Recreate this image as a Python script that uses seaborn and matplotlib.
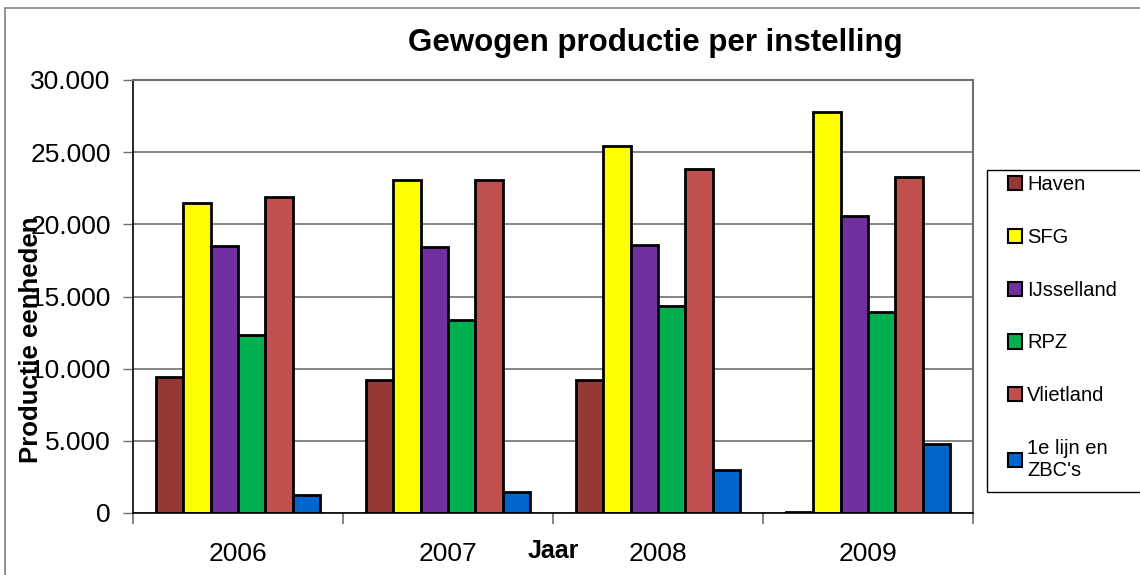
import numpy as np
import pandas as pd
import matplotlib
matplotlib.use("Agg")
import matplotlib.pyplot as plt
from matplotlib.ticker import FuncFormatter, FixedLocator
from matplotlib.patches import Rectangle
import seaborn as sns

YEARS = ["2006", "2007", "2008", "2009"]
INSTELLINGEN = ["Haven", "SFG", "IJsselland", "RPZ", "Vlietland", "1e lijn en\nZBC's"]
HAVEN = [9400, 9200, 9200, 100]
SFG = [21500, 23100, 25450, 27800]
IJSSELLAND = [18500, 18450, 18550, 20550]
RPZ = [12300, 13400, 14350, 13950]
VLIETLAND = [21900, 23100, 23850, 23300]
EERSTE_LIJN = [1250, 1450, 3000, 4800]
COLORS = ["#953735", "#FFFF00", "#7030A0", "#00B050", "#C0504D", "#0066CC"]


def build_frame():
    series = [HAVEN, SFG, IJSSELLAND, RPZ, VLIETLAND, EERSTE_LIJN]
    rows = []
    for name, vals in zip(INSTELLINGEN, series):
        for year, v in zip(YEARS, vals):
            rows.append({"Jaar": year, "Instelling": name, "Productie": v})
    return pd.DataFrame(rows)


def main():
    sns.set_style("white")
    plt.rcParams["font.family"] = ["Liberation Sans", "DejaVu Sans"]
    plt.rcParams["text.color"] = "black"
    plt.rcParams["xtick.labelcolor"] = "black"
    plt.rcParams["ytick.labelcolor"] = "black"

    df = build_frame()
    fig = plt.figure(figsize=(11.4, 5.75), dpi=100)
    ax = fig.add_axes([133 / 1140, 1 - 513 / 575, 840 / 1140, 433 / 575])

    sns.barplot(
        data=df, x="Jaar", y="Productie", hue="Instelling",
        order=YEARS, hue_order=INSTELLINGEN, palette=COLORS,
        width=0.78, edgecolor="black", linewidth=2, saturation=1,
        ax=ax, legend=True,
    )

    ax.set_ylim(0, 30000)
    ax.set_xlim(-0.5, 3.5)
    ax.set_yticks(np.arange(0, 30001, 5000))
    ax.yaxis.set_major_formatter(FuncFormatter(lambda v, p: f"{int(v):,}".replace(",", ".")))
    ax.yaxis.grid(True, color="#6f6f6f", linewidth=1.2)
    ax.set_axisbelow(True)
    ax.tick_params(axis="y", labelsize=19, length=7, width=1, color="#6f6f6f",
                   labelcolor="black", pad=9, left=True)

    ax.xaxis.set_minor_locator(FixedLocator([-0.5, 0.5, 1.5, 2.5, 3.5]))
    ax.tick_params(axis="x", which="major", length=0, labelsize=19, labelcolor="black", pad=21)
    ax.tick_params(axis="x", which="minor", length=8, width=1.2, color="#6f6f6f", bottom=True)
    ax.set_xlabel("")
    ax.set_ylabel("")

    for side in ["left", "bottom"]:
        ax.spines[side].set_color("black")
        ax.spines[side].set_linewidth(1.2)
    for side in ["top", "right"]:
        ax.spines[side].set_color("#6f6f6f")
        ax.spines[side].set_linewidth(1.5)

    handles, labels = ax.get_legend_handles_labels()
    ax.get_legend().remove()
    leg = fig.legend(
        handles, labels, loc="upper left",
        bbox_to_anchor=(1008 / 1140, 1 - 175 / 575), borderaxespad=0,
        fontsize=14.5, frameon=False, labelcolor="black",
        handlelength=0.7, handleheight=0.7, handletextpad=0.25,
        labelspacing=1.68, borderpad=0,
    )
    for h in leg.legend_handles:
        h.set_edgecolor("black")
        h.set_linewidth(1.5)
    fig.patches.append(Rectangle((987 / 1140, 1 - 492 / 575), 0.2, 322 / 575,
                                 transform=fig.transFigure, fill=False,
                                 edgecolor="black", linewidth=1))

    fig.text(655 / 1140, 1 - 43 / 575, "Gewogen productie per instelling",
             ha="center", va="center", fontsize=22.5, fontweight="bold")
    fig.text(31 / 1140, 1 - 340 / 575, "Productie eenheden", rotation=90,
             ha="center", va="center", fontsize=18.5, fontweight="bold")
    fig.text(553 / 1140, 1 - 551 / 575, "Jaar", ha="center", va="center",
             fontsize=18, fontweight="bold")

    fig.patches.append(Rectangle((5 / 1140, -0.1), 1.2, 1.1 - 8 / 575,
                                 transform=fig.transFigure, fill=False,
                                 edgecolor="#808080", linewidth=1.2))

    fig.savefig("out.png", dpi=100)
    plt.close(fig)


if __name__ == "__main__":
    main()
